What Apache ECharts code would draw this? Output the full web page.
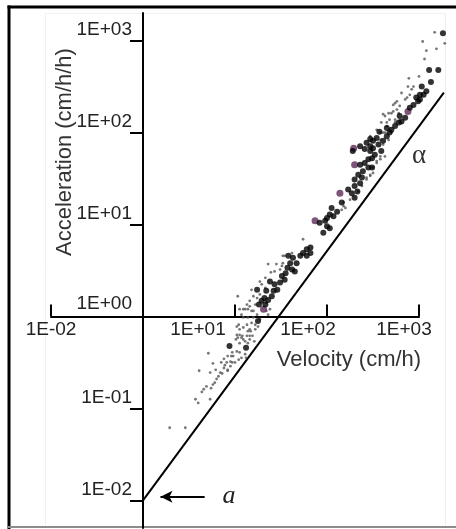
<!DOCTYPE html>
<html>
<head>
<meta charset="utf-8">
<script src="https://cdn.jsdelivr.net/npm/echarts@6/dist/echarts.min.js"></script>
<style>
  html, body { margin: 0; padding: 0; background: #fff; }
  #chart { width: 456px; height: 529px; }
</style>
</head>
<body>
<div id="chart"></div>
<script>
// Acceleration versus velocity on log-log axes.
// Every point is [log10(velocity, cm/h), log10(acceleration, cm/h/h)].

const xTickValues = [-1, 1, 2, 3];
const xTickLabels = ['1E-02', '1E+01', '1E+02', '1E+03'];
const yTickValues = [-2, -1, 0, 1, 2, 3];
const yTickLabels = ['1E-02', '1E-01', '1E+00', '1E+01', '1E+02', '1E+03'];

// lower bound line alpha, starting at the intercept a = 1E-02 (velocity 1)
const alphaLineLog = [[0, -2], [3.27, 2.435]];

// small grey points
const fineDotsLog = [
  [3.17, 3.09], [3.04, 2.99], [3.08, 2.89], [3.19, 2.91], [3.06, 2.80], [3.28, 2.97],
  [2.89, 2.59], [3.00, 2.61], [2.88, 2.50], [2.92, 2.47], [2.81, 2.43], [2.85, 2.36],
  [2.76, 2.34], [2.72, 2.30], [2.94, 2.50], [2.61, 2.20], [2.70, 2.21], [2.76, 2.25],
  [2.79, 2.29], [2.87, 2.38], [2.90, 2.41], [2.74, 2.32], [2.78, 2.21], [2.74, 2.14],
  [2.65, 2.11], [2.68, 2.14], [2.58, 2.00], [2.63, 2.00], [2.63, 1.74], [2.58, 1.71],
  [2.54, 1.67], [2.50, 1.56], [2.47, 1.54], [2.43, 1.51], [2.18, 1.24], [2.20, 1.18],
  [2.16, 1.16], [1.74, 0.84], [1.52, 0.66], [1.62, 0.69], [1.36, 0.57], [1.39, 0.48],
  [1.45, 0.57], [1.49, 0.51], [1.52, 0.58], [1.18, 0.29], [1.20, 0.22], [1.24, 0.20],
  [1.16, 0.17], [1.13, 0.13], [1.22, 0.13], [1.27, 0.24], [1.29, 0.35], [1.33, 0.31],
  [1.03, 0.22], [1.09, 0.08], [1.14, 0.08], [1.18, 0.06], [1.24, 0.02], [1.34, 0.06],
  [1.38, 0.08], [1.05, 0.08], [1.36, 0.02], [1.34, 0.15], [1.09, -0.01], [1.14, -0.01],
  [1.20, -0.01], [1.27, -0.03], [1.18, -0.07], [1.13, -0.09], [1.25, -0.11], [1.22, -0.14],
  [1.16, -0.14], [1.05, -0.14], [1.02, -0.11], [1.17, -0.16], [1.08, -0.21], [1.01, -0.25],
  [0.96, -0.43], [1.16, -0.25], [1.21, -0.27], [0.97, -0.50], [0.92, -0.58], [1.19, -0.21],
  [0.71, -0.40], [0.76, -0.51], [0.61, -0.59], [0.73, -0.61], [0.79, -0.58], [0.84, -0.61],
  [0.85, -0.50], [0.88, -0.46], [0.91, -0.50], [0.92, -0.43], [0.95, -0.49], [0.98, -0.43],
  [1.02, -0.38], [1.05, -0.39], [1.07, -0.45], [1.11, -0.41], [1.12, -0.45], [0.88, -0.56],
  [0.86, -0.62], [0.82, -0.65], [0.80, -0.68], [0.78, -0.72], [0.76, -0.74], [0.74, -0.78],
  [0.69, -0.76], [0.66, -0.79], [0.64, -0.82], [0.73, -0.90], [0.57, -0.90], [0.60, -0.94],
  [0.29, -1.21], [0.46, -1.21], [0.89, -0.53], [0.92, -0.59], [0.95, -0.54], [0.97, -0.39],
  [1.00, -0.50], [1.04, -0.47], [1.05, -0.29], [1.03, -0.23], [1.05, -0.20], [1.09, -0.25],
  [1.13, -0.21], [1.14, -0.29],
  [2.72, 2.23], [2.74, 2.11], [2.65, 2.07], [2.61, 2.00], [2.70, 2.00], [2.58, 1.92],
  [2.67, 1.92], [2.61, 1.87], [2.58, 1.74], [2.54, 1.69], [2.50, 1.62], [2.47, 1.53],
  [2.43, 1.49], [2.38, 1.42], [2.34, 1.36], [2.25, 1.27], [2.18, 1.20], [2.59, 2.11],
  [2.63, 2.18], [2.67, 2.21], [2.47, 1.96], [2.54, 2.03],
  [1.54, 0.66], [1.51, 0.55], [1.43, 0.49], [1.33, 0.42], [1.27, 0.38], [1.11, 0.08],
  [1.16, 0.11], [1.20, 0.06], [1.07, 0.02], [1.04, -0.09], [1.09, -0.12], [1.14, -0.16],
  [1.02, -0.20], [1.07, -0.23], [1.11, -0.27], [1.16, -0.21], [1.22, -0.09]
];

// large black points
const heavyDotsLog = [
  [3.26, 3.08], [3.11, 2.68], [3.21, 2.68], [3.13, 2.55], [3.03, 2.50], [3.08, 2.45],
  [3.01, 2.41], [2.97, 2.38], [2.99, 2.34], [2.94, 2.30], [2.90, 2.27], [3.01, 2.36],
  [3.05, 2.41], [2.36, 1.85], [2.43, 1.89], [2.47, 1.93], [2.50, 1.91], [2.54, 1.94],
  [2.57, 2.01], [2.47, 1.85], [2.41, 1.82], [2.47, 1.80], [2.50, 1.83], [2.56, 1.87],
  [2.61, 1.91], [2.65, 1.96], [2.68, 2.00], [2.65, 2.05], [2.70, 2.03], [2.74, 2.07],
  [2.78, 2.11], [2.81, 2.12], [2.85, 2.16], [2.79, 2.18], [2.36, 1.65], [2.41, 1.67],
  [2.45, 1.71], [2.49, 1.72], [2.52, 1.76], [2.59, 1.80], [2.45, 1.62], [2.49, 1.62],
  [2.39, 1.58], [2.34, 1.54], [2.38, 1.51], [2.30, 1.49], [2.36, 1.45], [2.28, 1.80],
  [2.30, 1.42], [2.33, 1.36], [2.27, 1.34], [2.30, 1.29], [2.23, 1.38], [2.16, 1.24],
  [2.05, 1.18], [2.11, 1.14], [2.03, 1.11], [2.07, 1.09], [2.00, 1.07], [1.98, 1.04],
  [1.92, 1.02], [2.00, 0.98], [2.03, 0.96], [1.96, 0.91], [1.82, 0.75], [1.78, 0.73],
  [1.74, 0.69], [1.82, 0.69], [1.78, 0.66], [1.71, 0.66], [1.58, 0.66], [1.63, 0.64],
  [1.67, 0.58], [1.60, 0.58], [1.57, 0.53], [1.62, 0.51], [1.65, 0.49], [1.55, 0.47],
  [1.51, 0.44], [1.54, 0.40], [1.49, 0.37], [1.43, 0.35], [1.46, 0.29], [1.42, 0.28],
  [1.40, 0.22], [1.38, 0.38], [1.34, 0.28], [1.32, 0.20], [1.29, 0.17], [1.24, 0.29],
  [1.26, 0.13], [1.33, 0.13], [1.36, 0.18], [1.25, -0.05], [1.12, -0.34], [0.94, -0.32]
];

// first point of each step, tinted
const markedDotsLog = [
  [2.29, 1.83], [2.30, 1.65], [2.14, 1.34], [1.87, 1.04], [2.88, 2.23], [1.31, 0.08]
];

const SANS = '"Liberation Sans", Arial, sans-serif';
const SERIF = '"Liberation Serif", "DejaVu Serif", serif';
const TEXT = '#222';

// plot area and axis ranges (log10 units)
const GRID = { left: 51, right: 37, top: 13, bottom: 1 };
const X_RANGE = [-1, 3];
const Y_RANGE = [-2.3, 3.3];
const W = 456, H = 529;
const gridW = W - GRID.left - GRID.right;
const gridH = H - GRID.top - GRID.bottom;
// the axes cross at velocity 1 and acceleration 1 (log value 0)
const xAxisOffset = -((0 - Y_RANGE[0]) / (Y_RANGE[1] - Y_RANGE[0])) * gridH;
const yAxisOffset = -((0 - X_RANGE[0]) / (X_RANGE[1] - X_RANGE[0])) * gridW;

const chart = echarts.init(document.getElementById('chart'), null, { renderer: 'canvas' });

const xRich = {};
const xPads = [0, 74, 38, 30];
xPads.forEach((p, i) => {
  xRich['k' + i] = { fontSize: 19, fontFamily: SANS, color: TEXT, padding: [0, p, 0, 0] };
});

chart.setOption({
  animation: false,
  backgroundColor: '#fff',
  grid: Object.assign({ containLabel: false, outerBoundsMode: 'none' }, GRID),
  xAxis: {
    type: 'value',
    position: 'bottom',
    offset: xAxisOffset,
    min: X_RANGE[0],
    max: X_RANGE[1],
    splitLine: { show: false },
    axisLine: { onZero: false, lineStyle: { color: '#000', width: 2 } },
    axisTick: {
      customValues: xTickValues,
      inside: true,
      length: 12,
      lineStyle: { color: '#000', width: 2 }
    },
    axisLabel: {
      customValues: xTickValues,
      margin: 4,
      hideOverlap: false,
      formatter: v => {
        const i = xTickValues.indexOf(v);
        return '{k' + i + '|' + xTickLabels[i] + '}';
      },
      rich: xRich
    }
  },
  yAxis: {
    type: 'value',
    position: 'left',
    offset: yAxisOffset,
    min: Y_RANGE[0],
    max: Y_RANGE[1],
    splitLine: { show: false },
    axisLine: { onZero: false, lineStyle: { color: '#000', width: 2 } },
    axisTick: {
      customValues: yTickValues,
      length: 13,
      lineStyle: { color: '#000', width: 2 }
    },
    axisLabel: {
      customValues: yTickValues,
      margin: 11,
      hideOverlap: false,
      verticalAlign: 'bottom',
      formatter: v => {
        const i = yTickValues.indexOf(v);
        return (v === 0 ? '{z|' : '{n|') + yTickLabels[i] + '}';
      },
      rich: {
        n: { fontSize: 19, fontFamily: SANS, color: TEXT, lineHeight: 21 },
        z: { fontSize: 19, fontFamily: SANS, color: TEXT, lineHeight: 21, padding: [0, 0, 5, 0] }
      }
    }
  },
  series: [
    {
      name: 'fine',
      type: 'scatter',
      clip: false,
      symbol: 'circle',
      symbolSize: 2.8,
      itemStyle: { color: '#555' },
      data: fineDotsLog
    },
    {
      name: 'marked',
      type: 'scatter',
      clip: false,
      symbol: 'circle',
      symbolSize: 7,
      itemStyle: { color: '#5e2a56' },
      data: markedDotsLog
    },
    {
      name: 'heavy',
      type: 'scatter',
      clip: false,
      symbol: 'circle',
      symbolSize: 6,
      itemStyle: { color: '#000' },
      data: heavyDotsLog,
      // arrow pointing at the intercept a
      markLine: {
        silent: true,
        animation: false,
        symbolSize: [9, 12],
        lineStyle: { color: '#000', width: 2, type: 'solid' },
        label: { show: false },
        data: [[
          { coord: [0.67, -1.96], symbol: 'none' },
          { coord: [0.19, -1.96], symbol: 'arrow' }
        ]]
      }
    },
    {
      // straight bound line drawn between its two end points
      name: 'alpha',
      type: 'custom',
      clip: false,
      silent: true,
      data: [[alphaLineLog[0][0], alphaLineLog[0][1], alphaLineLog[1][0], alphaLineLog[1][1]]],
      encode: { x: [0, 2], y: [1, 3] },
      renderItem: (params, api) => {
        const p0 = api.coord([api.value(0), api.value(1)]);
        const p1 = api.coord([api.value(2), api.value(3)]);
        return {
          type: 'line',
          shape: { x1: p0[0], y1: p0[1], x2: p1[0], y2: p1[1] },
          style: { stroke: '#000', lineWidth: 2 }
        };
      }
    }
  ],
  graphic: [
    // frame
    { type: 'rect', silent: true, shape: { x: 7.5, y: 5.5, width: 449, height: 3 }, style: { fill: '#000' } },
    { type: 'rect', silent: true, shape: { x: 7.5, y: 5.5, width: 3, height: 524 }, style: { fill: '#000' } },
    { type: 'rect', silent: true, shape: { x: 8, y: 526, width: 448, height: 2 }, style: { fill: '#8c8c8c' } },
    { type: 'line', silent: true, shape: { x1: 45.5, y1: 13, x2: 45.5, y2: 526 }, style: { stroke: '#f1f1f1', lineWidth: 1 } },
    { type: 'line', silent: true, shape: { x1: 445.5, y1: 13, x2: 445.5, y2: 526 }, style: { stroke: '#eeeeee', lineWidth: 1 } },
    { type: 'line', silent: true, shape: { x1: 45, y1: 13.5, x2: 446, y2: 13.5 }, style: { stroke: '#f1f1f1', lineWidth: 1 } },
    // axis titles
    {
      type: 'text', silent: true, x: 349, y: 360,
      style: { text: 'Velocity (cm/h)', font: '22px ' + SANS, fill: '#333', align: 'center', verticalAlign: 'middle' }
    },
    {
      type: 'text', silent: true, x: 65, y: 152, rotation: Math.PI / 2,
      style: { text: 'Acceleration (cm/h/h)', font: '22px ' + SANS, fill: '#333', align: 'center', verticalAlign: 'middle' }
    },
    // annotations
    {
      type: 'text', silent: true, x: 419, y: 156,
      style: { text: '\u03b1', font: '27px ' + SERIF, fill: '#333', align: 'center', verticalAlign: 'middle' }
    },
    {
      type: 'text', silent: true, x: 229, y: 496,
      style: { text: 'a', font: 'italic 26px ' + SERIF, fill: '#222', align: 'center', verticalAlign: 'middle' }
    }
  ]
});
</script>
</body>
</html>
